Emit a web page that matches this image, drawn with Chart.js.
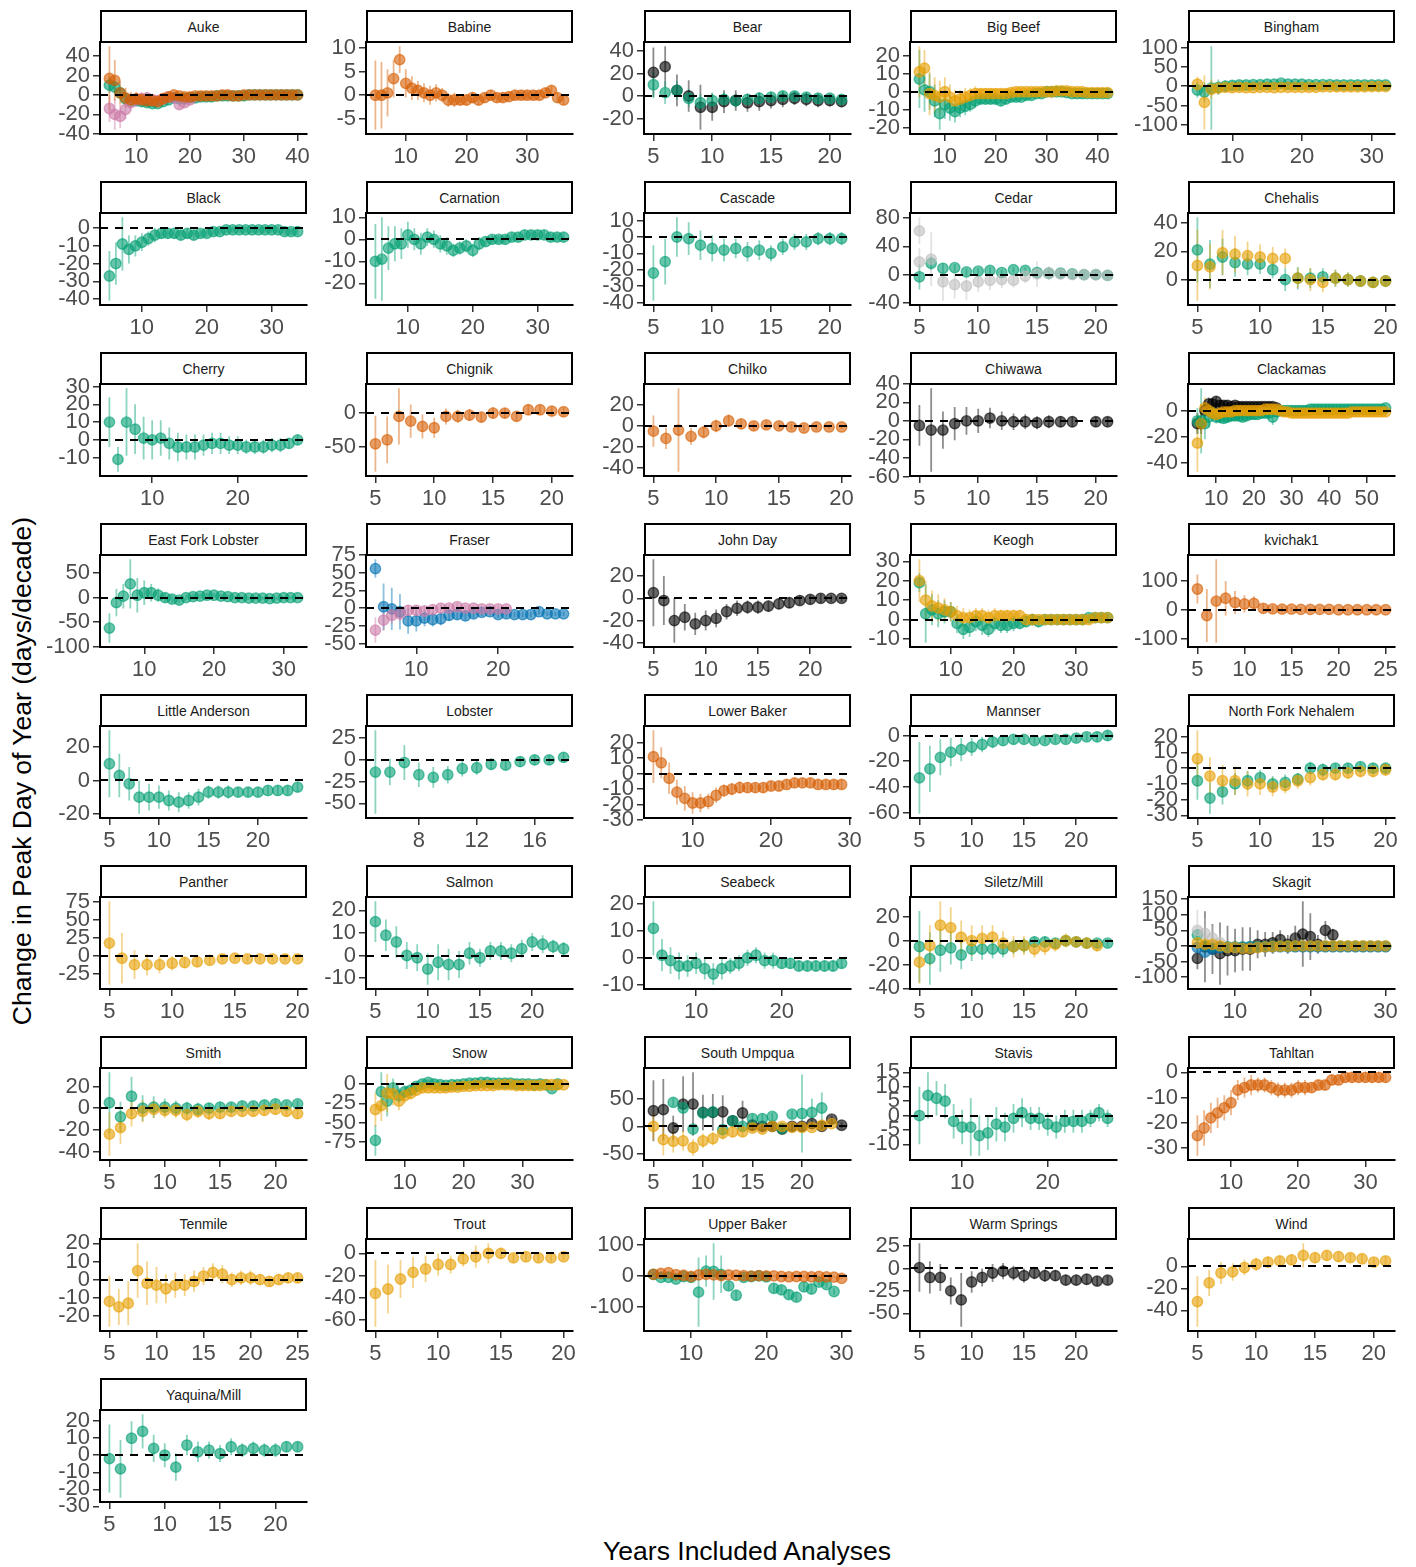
<!DOCTYPE html>
<html>
<head>
<meta charset="utf-8">
<script src="https://cdn.jsdelivr.net/npm/chart.js@4.4.1/dist/chart.umd.min.js"></script>
<style>
  html, body { margin: 0; padding: 0; background: #fff; }
  body { width: 1416px; height: 1567px; position: relative; overflow: hidden;
         font-family: 'Liberation Sans', Arial, Helvetica, sans-serif; }
  .strip { position: absolute; box-sizing: border-box; border: 2px solid #000; background: #fff;
           font-size: 14px; color: #1a1a1a; display: flex; align-items: center; justify-content: center; }
  .cell { position: absolute; }
  .cell canvas { display: block; }
  .xtitle { position: absolute; left: 0; width: 1494px; top: 1536px; text-align: center; font-size: 26.5px; color: #000; }
  .ytitle { position: absolute; width: 700px; height: 32px; line-height: 32px; text-align: center; font-size: 26.5px; color: #000;
            left: -328px; top: 755px; transform: rotate(-90deg); }
</style>
</head>
<body>
<div class="ytitle">Change in Peak Day of Year (days/decade)</div>
<div class="xtitle">Years Included Analyses</div>
<script>
// ---------- Years included (x) per site ----------
const AUKE_X = [5,6,7,8,9,10,11,12,13,14,15,16,17,18,19,20,21,22,23,24,25,26,27,28,29,30,31,32,33,34,35,36,37,38,39,40];
const BABINE_X = [5,6,7,8,9,10,11,12,13,14,15,16,17,18,19,20,21,22,23,24,25,26,27,28,29,30,31,32,33,34,35,36];
const BEAR_X = [5,6,7,8,9,10,11,12,13,14,15,16,17,18,19,20,21];
const BIGBEEF_X = [5,6,7,8,9,10,11,12,13,14,15,16,17,18,19,20,21,22,23,24,25,26,27,28,29,30,31,32,33,34,35,36,37,38,39,40,41,42];
const BINGHAM_X = [5,6,7,8,9,10,11,12,13,14,15,16,17,18,19,20,21,22,23,24,25,26,27,28,29,30,31,32];
const BLACK_X = [5,6,7,8,9,10,11,12,13,14,15,16,17,18,19,20,21,22,23,24,25,26,27,28,29,30,31,32,33,34];
const CARNATION_X = [5,6,7,8,9,10,11,12,13,14,15,16,17,18,19,20,21,22,23,24,25,26,27,28,29,30,31,32,33,34];
const CASCADE_X = [5,6,7,8,9,10,11,12,13,14,15,16,17,18,19,20,21];
const CEDAR_X = [5,6,7,8,9,10,11,12,13,14,15,16,17,18,19,20,21];
const CHEHALIS_X = [5,6,7,8,9,10,11,12,13,14,15,16,17,18,19,20];
const CHERRY_X = [5,6,7,8,9,10,11,12,13,14,15,16,17,18,19,20,21,22,23,24,25,26,27];
const CHIGNIK_X = [5,6,7,8,9,10,11,12,13,14,15,16,17,18,19,20,21];
const CHILKO_X = [5,6,7,8,9,10,11,12,13,14,15,16,17,18,19,20];
const CHIWAWA_X = [5,6,7,8,9,10,11,12,13,14,15,16,17,18,20,21];
const CLACKAMAS_X = [5,6,7,8,9,10,11,12,13,14,15,16,17,18,19,20,21,22,23,24,25,26,27,28,29,30,31,32,33,34,35,36,37,38,39,40,41,42,43,44,45,46,47,48,49,50,51,52,53,54,55];
const EFL_X = [5,6,7,8,9,10,11,12,13,14,15,16,17,18,19,20,21,22,23,24,25,26,27,28,29,30,31,32];
const FRASER_X = [5,6,7,8,9,10,11,12,13,14,15,16,17,18,19,20,21,22,23,24,25,26,27,28];
const JOHNDAY_X = [5,6,7,8,9,10,11,12,13,14,15,16,17,18,19,20,21,22,23];
const KEOGH_X = [5,6,7,8,9,10,11,12,13,14,15,16,17,18,19,20,21,22,23,24,25,26,27,28,29,30,31,32,33,34,35];
const KVICHAK_X = [5,6,7,8,9,10,11,12,13,14,15,16,17,18,19,20,21,22,23,24,25];
const LITTLEAND_X = [5,6,7,8,9,10,11,12,13,14,15,16,17,18,19,20,21,22,23,24];
const LOBSTER_X = [5,6,7,8,9,10,11,12,13,14,15,16,17,18];
const LOWERBAKER_X = [5,6,7,8,9,10,11,12,13,14,15,16,17,18,19,20,21,22,23,24,25,26,27,28,29];
const MANNSER_X = [5,6,7,8,9,10,11,12,13,14,15,16,17,18,19,20,21,22,23];
const NFN_X = [5,6,7,8,9,10,11,12,13,14,15,16,17,18,19,20];
const PANTHER_X = [5,6,7,8,9,10,11,12,13,14,15,16,17,18,19,20];
const SALMON_X = [5,6,7,8,9,10,11,12,13,14,15,16,17,18,19,20,21,22,23];
const SEABECK_X = [5,6,7,8,9,10,11,12,13,14,15,16,17,18,19,20,21,22,23,24,25,26,27];
const SILETZ_X = [5,6,7,8,9,10,11,12,13,14,15,16,17,18,19,20,21,22,23];
const SKAGIT_X = [5,6,7,8,9,10,11,12,13,14,15,16,17,18,19,20,21,22,23,24,25,26,27,28,29,30];
const SMITH_X = [5,6,7,8,9,10,11,12,13,14,15,16,17,18,19,20,21,22];
const SNOW_X = [5,6,7,8,9,10,11,12,13,14,15,16,17,18,19,20,21,22,23,24,25,26,27,28,29,30,31,32,33,34,35,36,37];
const UMPQUA_X = [5,6,7,8,9,10,11,12,13,14,15,16,17,18,19,20,21,22,23,24];
const UMPQUA_TEAL_X = [7,8,9,10,11,12,13,14,15,16,17,18,19,20,21,22];
const STAVIS_X = [5,6,7,8,9,10,11,12,13,14,15,16,17,18,19,20,21,22,23,24,25,26,27];
const TAHLTAN_X = [5,6,7,8,9,10,11,12,13,14,15,16,17,18,19,20,21,22,23,24,25,26,27,28,29,30,31,32,33];
const TENMILE_X = [5,6,7,8,9,10,11,12,13,14,15,16,17,18,19,20,21,22,23,24,25];
const TROUT_X = [5,6,7,8,9,10,11,12,13,14,15,16,17,18,19,20];
const UPPERBAKER_X = [5,6,7,8,9,10,11,12,13,14,15,16,17,18,19,20,21,22,23,24,25,26,27,28,29,30];
const WARMSPR_X = [5,6,7,8,9,10,11,12,13,14,15,16,17,18,19,20,21,22,23];
const WIND_X = [5,6,7,8,9,10,11,12,13,14,15,16,17,18,19,20,21];
const YAQUINA_X = [5,6,7,8,9,10,11,12,13,14,15,16,17,18,19,20,21,22];

// ---------- Change in peak day (days/decade) and its half-interval ----------
const AUKE_TEAL = [10,8,2,-4,-6,-6,-7,-8,-9,-9,-7,-5,-3,-4,-4,-3,-3,-2,-2,-2,-1,-1,-1,-1,-1,-1,0,0,0,0,0,0,0,0,0,0];
const AUKE_TEAL_SE = [8,7,6,5,5,4,4,4,4,3,3,3,3,3,3,2,2,2,2,2,2,2,2,2,2,2,1.5,1.5,1.5,1.5,1.5,1.5,1.5,1.5,1.5,1.5];
const AUKE_PINK = [-14,-20,-22,-15,-8,-5,-4,-3,-5,-6,-4,-2,-3,-10,-8,-5];
const AUKE_PINK_SE = [14,16,12,10,8,7,7,6,6,5,5,4,4,4,4,3];
const AUKE_ORANGE = [17,15,2,-3,-5,-4,-5,-6,-6,-7,-4,-2,0,-1,-2,-2,-1,-1,-1,-1,-1,0,0,-1,-1,0,0,0,0,0,0,0,0,0,0,0];
const AUKE_ORANGE_SE = [33,21,12,10,8,7,6,6,5,5,4,4,3,3,3,3,2,2,2,2,2,2,2,2,2,1.5,1.5,1.5,1.5,1.5,1.5,1.5,1.5,1.5,1.5,1.5];

const BABINE_ORANGE = [0,0,0.5,3.5,7.5,2.5,1.5,1,0.5,0,0.5,0,-1,-1,-1,-1,-0.5,-1,-0.5,0,-0.5,-0.5,-0.3,0,0,0,0,0,0.5,1,-0.5,-1];
const BABINE_ORANGE_SE = [7.3,7,5,4,2.8,3,2.5,2,2,2,1.8,1.5,1.5,1.5,1.2,1.2,1.2,1.2,1,1,1,1,1,1,1,1,1,1,1,1,1,1];

const BEAR_BLACK = [21,26,5,0,-10,-10,-5,-4,-6,-5,-4,-3,-2,-3,-4,-4,-5];
const BEAR_BLACK_SE = [22,18,14,14,20,12,10,9,8,8,7,7,6,6,6,5,5];
const BEAR_TEAL = [10,3,5,-2,-6,-4,-3,-4,-3,-2,-1,0,0,-1,-2,-2,-3];
const BEAR_TEAL_SE = [12,10,8,8,8,7,6,6,5,5,5,4,4,4,4,4,4];

const BIGBEEF_TEAL = [7,1,0,-5,-12,-7,-9,-11,-9,-8,-7,-5,-4,-4,-4,-4,-5,-4,-3,-3,-3,-2,-2,-1,-1,0,0,0,0,-0.5,-1,-1,-1,-1,-1,-1,-1,-1];
const BIGBEEF_TEAL_SE = [16,12,10,9,9,8,7,6,5,5,4,4,3,3,3,3,3,2.5,2,2,2,2,2,2,2,2,2,2,2,2,2,2,2,2,2,2,2,2];
const BIGBEEF_GOLD = [11,13,-1,-2,-3,0,-3,-5,-4,-3,-2,-1,-1,-1,-1,-1,-1,-1,-0.5,0,0,0,0,0,0,0,0,0.5,0.5,0.5,0,0,0,-0.5,-0.5,-0.5,-0.5,-0.5];
const BIGBEEF_GOLD_SE = [14,10,12,10,9,8,7,6,5,5,4,4,3,3,3,3,2.5,2.5,2,2,2,2,2,2,2,2,2,2,2,2,2,2,2,2,2,2,2,2];

const BINGHAM_TEAL = [-10,-15,-5,-3,0,2,3,3,4,4,5,5,8,5,5,5,4,4,4,4,3,3,3,3,3,3,3,3];
const BINGHAM_TEAL_SE = [20,25,108,20,15,12,10,9,8,7,7,6,6,6,5,5,5,5,4,4,4,4,4,4,4,4,4,4];
const BINGHAM_GOLD = [5,-42,-8,-5,-3,-4,-3,-4,-4,-3,-3,-4,-3,-3,-3,-3,-3,-3,-2,-2,-2,-2,-2,-2,-2,-1,-1,-1];
const BINGHAM_GOLD_SE = [20,70,25,15,12,10,9,8,7,6,6,5,5,5,5,4,4,4,4,4,3,3,3,3,3,3,3,3];

const BLACK_TEAL = [-27,-20,-9,-12,-10,-8,-6,-4,-3,-3,-3,-4,-3,-4,-3,-3,-2,-2,-1,-1,-1,-1,-1,-1,-1,-1,-1,-2,-2,-2];
const BLACK_TEAL_SE = [14,12,15,8,6,5,4,4,3,3,3,3,3,3,2,2,2,2,2,2,2,2,2,2,2,2,2,2,2,2];

const CARNATION_TEAL = [-10,-9,-4,-2,-2,2,0,-2,1,0,-2,-3,-5,-4,-3,-5,-2,-1,0,0,0,1,1,2,2,2,2,1,1,1];
const CARNATION_TEAL_SE = [17,19,10,8,7,6,5,5,4,4,4,4,3,3,3,3,3,2,2,2,2,2,2,2,2,2,2,2,2,2];

const CASCADE_TEAL = [-22,-15,0,-1,-5,-7,-8,-7,-9,-8,-10,-6,-3,-3,-1,-1,-1];
const CASCADE_TEAL_SE = [17,14,12,10,9,8,7,6,6,6,5,5,5,5,4,4,4];

const CEDAR_TEAL = [-3,16,9,10,4,5,6,3,7,6,3,2,2,1,0,0,-1];
const CEDAR_TEAL_SE = [18,10,6,5,5,4,4,4,4,4,4,3,3,3,3,3,3];
const CEDAR_GREY = [18,22,-10,-14,-16,-10,-8,-7,-8,-2,1,2,1,0,0,0,-1];
const CEDAR_GREY_SE = [20,38,27,20,20,15,14,12,10,10,18,10,8,6,5,5,4];
const CEDAR_GREY2 = [62];
const CEDAR_GREY2_SE = [19];

const CHEHALIS_TEAL = [21,11,16,12,11,11,7,0,1,1,2,1,0,-1,-2,-1];
const CHEHALIS_TEAL_SE = [23,17,13,10,8,7,6,8,8,7,6,6,5,4,4,4];
const CHEHALIS_GOLD = [10,9,19,18,17,16,15,15,1,0,-2,1,0,-1,-2,-1];
const CHEHALIS_GOLD_SE = [25,16,16,13,10,9,8,7,7,8,7,6,5,4,4,4];

const CHERRY_TEAL = [10,-11,10,6,1,0,1,-2,-4,-4,-4,-3,-2,-2,-3,-3,-4,-4,-4,-3,-3,-2,0];
const CHERRY_TEAL_SE = [14,7,19,14,12,11,10,9,8,7,7,6,6,6,5,5,4,4,4,4,4,3,3];

const CHIGNIK_ORANGE = [-46,-40,-5,-12,-20,-22,-5,-5,-3,-6,0,0,-5,5,5,3,2];
const CHIGNIK_ORANGE_SE = [42,35,42,25,18,15,12,10,9,8,9,8,7,8,7,7,6];

const CHILKO_ORANGE = [-5,-12,-4,-10,-6,0,5,2,0,1,0,-1,-2,-1,-1,-1];
const CHILKO_ORANGE_SE = [15,10,40,8,6,6,6,5,4,4,3,3,3,3,2,2];

const CHIWAWA_BLACK = [-5,-10,-10,-3,0,0,3,0,-1,-1,-2,-1,-1,-1,-1,-1];
const CHIWAWA_BLACK_SE = [22,45,20,18,15,13,11,10,9,8,7,7,6,6,5,5];

const CLACKAMAS_BLACK = [-10,-10,0,5,5,7,4,4,4,3,4,3,3,3,3,3,3,3,3,3,3,2];
const CLACKAMAS_BLACK_SE = [8,8,6,5,4,4,4,3,3,3,3,3,3,2,2,2,2,2,2,2,2,2];
const CLACKAMAS_TEAL = [-8,-8,-10,-5,-2,-5,-5,-6,-5,-4,-4,-4,-5,-4,-3,-3,-3,-2,-2,-2,-5,-1,0,0,0,0,
  0,0,0,0,1,1,1,1,1,1,1,1,1,1,1,1,1,1,1,1,1,1,1,1,2];
const CLACKAMAS_TEAL_SE = [10,25,12,8,6,5,5,4,4,4,3,3,3,3,3,3,3,3,3,3,6,
  2,2,2,2,2,2,2,2,2,2,2,2,2,2,2,2,2,2,2,2,2,2,2,2,2,2,2,2,2,2];
const CLACKAMAS_GOLD = [-25,-10,2,0,-2,-3,-2,-1,-1,-1,0,0,0,0,0,0,0,0,1,1,1,1,0,-1,-1,-2,
  -2,-2,-2,-2,-2,-2,-2,-2,-2,-2,-2,-2,-2,-2,-2,-1,-1,-1,-1,-1,-1,-1,-1,-1,-1];
const CLACKAMAS_GOLD_SE = [22,15,8,6,5,4,4,3,3,3,3,3,3,3,3,
  2,2,2,2,2,2,2,2,2,2,2,2,2,2,2,2,2,2,2,2,2,2,2,2,2,2,2,2,2,2,2,2,2,2,2,2];

const EFL_TEAL = [-62,-10,3,28,5,10,10,5,0,-3,-5,0,2,3,5,5,3,2,0,0,-1,-1,-1,-2,-1,0,0,0];
const EFL_TEAL_SE = [30,28,25,50,35,25,18,14,10,8,7,6,6,5,5,5,4,4,4,4,3,3,3,3,3,3,3,3];

const FRASER_BLUE = [56,2,-1,-5,-18,-18,-14,-16,-15,-10,-9,-11,-8,-6,-5,-9,-8,-9,-9,-9,-5,-8,-8,-8];
const FRASER_BLUE_SE = [13,33,30,25,18,15,12,10,9,8,7,6,6,5,5,5,5,4,4,4,4,3,3,3];
const FRASER_PINK = [-31,-17,-10,-8,-3,-3,-4,-2,0,0,2,0,0,-1,-1,-1,-1];
const FRASER_PINK_SE = [18,15,12,10,8,7,6,6,5,5,5,4,4,4,4,4,4];

const JOHNDAY_BLACK = [5,-2,-20,-17,-23,-20,-18,-12,-9,-8,-8,-7,-5,-4,-2,-1,0,0,0];
const JOHNDAY_BLACK_SE = [30,22,20,12,10,9,8,7,7,6,6,5,5,5,4,4,4,3,3];

const KEOGH_TEAL = [19,3,5,3,4,4,-2,-5,-4,-1,-3,-5,-2,-3,-3,-2,-2,-1,0,-1,0,0,0,0,0,0,0,1,1,1,1];
const KEOGH_TEAL_SE = [5,15,8,7,6,5,5,5,5,5,5,4,4,4,4,4,3,3,3,3,2,2,2,2,2,2,2,2,2,2,2];
const KEOGH_GOLD = [20,10,7,6,5,4,2,1,1,2,2,1,2,2,2,2,2,0,0,0,0,0,0,0,0,0,0,0,1,1,1];
const KEOGH_GOLD_SE = [11,10,8,7,6,5,5,5,4,4,4,4,4,3,3,3,3,3,3,2,2,2,2,2,2,2,2,2,2,2,2];

const KVICHAK_ORANGE = [72,-20,30,40,25,20,22,5,3,2,2,1,1,1,1,0,0,0,0,0,0];
const KVICHAK_ORANGE_SE = [50,92,145,60,40,30,25,15,12,10,8,8,7,6,6,5,5,5,4,4,4];

const LITTLEAND_TEAL = [10,3,-2,-10,-10,-10,-12,-13,-12,-10,-7,-7,-7,-7,-7,-7,-6,-6,-6,-4];
const LITTLEAND_TEAL_SE = [20,13,10,10,8,7,6,6,5,5,4,4,4,3,3,3,3,3,3,3];

const LOBSTER_TEAL = [-14,-14,-3,-17,-20,-17,-10,-9,-5,-6,-2,0,0,3];
const LOBSTER_TEAL_SE = [48,15,20,14,12,10,9,8,7,6,6,6,5,5];

const LOWERBAKER_ORANGE = [11,7,-3,-12,-16,-19,-19,-18,-14,-11,-10,-9,-9,-9,-9,-8,-8,-7,-6,-6,-6,-7,-7,-7,-7];
const LOWERBAKER_ORANGE_SE = [17,10,10,8,8,7,6,5,5,4,4,4,3,3,3,3,3,3,3,3,3,3,3,3,3];

const MANNSER_TEAL = [-33,-26,-17,-13,-11,-9,-7,-5,-4,-3,-3,-4,-4,-3,-3,-2,-1,-1,0];
const MANNSER_TEAL_SE = [28,18,14,11,9,7,6,5,4,4,3,3,3,3,3,3,3,4,4];

const NFN_TEAL = [-8,-19,-15,-10,-8,-6,-10,-9,-7,0,-1,0,0,1,0,0];
const NFN_TEAL_SE = [12,10,8,7,6,5,5,5,4,4,4,3,3,3,3,3];
const NFN_GOLD = [6,-5,-8,-8,-10,-10,-12,-11,-8,-6,-4,-4,-3,-2,-2,-1];
const NFN_GOLD_SE = [18,12,10,9,8,7,6,5,5,5,4,4,4,4,4,4];

const PANTHER_GOLD = [18,-3,-12,-12,-12,-10,-9,-8,-6,-4,-3,-4,-4,-4,-4,-4];
const PANTHER_GOLD_SE = [58,35,20,15,12,10,8,7,6,5,5,4,4,4,4,3];

const SALMON_TEAL = [15,9,6,0,-1,-6,-3,-4,-4,1,-1,2,2,1,3,6,5,4,3];
const SALMON_TEAL_SE = [9,7,7,6,6,7,8,7,6,5,4,4,4,4,4,4,4,3,3];

const SEABECK_TEAL = [11,1,-1,-3,-3,-2,-4,-6,-4,-3,-2,0,1,-1,-1,-2,-2,-3,-3,-3,-3,-3,-2];
const SEABECK_TEAL_SE = [10,6,5,5,4,4,4,4,4,3,3,3,3,3,3,2,2,2,2,2,2,2,2];

const SILETZ_TEAL = [-5,-15,-8,-6,-12,-7,-7,-7,-7,-5,-4,-1,-1,-2,0,-1,-2,-2,-2];
const SILETZ_TEAL_SE = [30,22,18,14,12,10,9,8,7,6,6,5,5,4,4,4,4,3,3];
const SILETZ_GOLD = [-18,-4,13,11,3,0,2,3,-2,-5,-4,-7,-5,-3,0,-1,-2,-4];
const SILETZ_GOLD_SE = [18,17,20,17,14,13,11,10,10,9,8,7,7,6,6,5,5,5];

const SKAGIT_BLACK = [-40,-3,-10,-25,-15,-15,-10,-10,5,5,10,20,5,25,38,30,5,50,35];
const SKAGIT_BLACK_SE = [35,114,80,100,80,70,70,70,45,40,35,30,30,40,105,75,30,30,20];
const SKAGIT_GREY = [50,40,25,10];
const SKAGIT_GREY_SE = [65,50,40,30];
const SKAGIT_TEAL = [35,0,-2,-3,-3,-3,-3,-2,-2,-2,-1,-1,-1,-1,-1,-1,-1,-1,-1,-1,-1,-1,-1,-1,-1,-1];
const SKAGIT_TEAL_SE = [20,15,10,8,7,6,5,5,4,4,4,3,3,3,3,3,3,3,3,3,3,3,3,3,3,3];
const SKAGIT_BLUE = [-5,-20,-10,-5,-5,-5,-5,-4,-4,-3,-3,-3,-3,-3,-3,-3,-3,-3,-3,-3,-3,-3,-3,-3,-3,-3];
const SKAGIT_BLUE_SE = [15,12,10,8,6,5,5,4,4,4,3,3,3,3,3,3,3,3,3,3,3,3,3,3,3,3];
const SKAGIT_GOLD = [10,5,5,0,-5,-5,-8,-8,-5,-3,-2,-1,-1,0,0,0,0,0,0,0,0,0,0,0,0,0];
const SKAGIT_GOLD_SE = [15,12,10,8,8,7,6,6,5,5,4,4,4,3,3,3,3,3,3,3,3,3,3,3,3,3];

const SMITH_TEAL = [5,-8,11,0,1,1,0,0,-1,0,1,1,2,2,3,4,3,4];
const SMITH_TEAL_SE = [28,14,18,12,10,8,7,6,6,5,5,4,4,4,4,4,3,3];
const SMITH_GOLD = [-24,-18,-5,-3,-1,-2,-2,-6,-3,-5,-5,-3,-3,-3,-2,-1,-3,-5];
const SMITH_GOLD_SE = [20,15,12,10,8,7,7,6,6,6,5,5,5,5,5,5,5,5];

const SNOW_TEAL = [-73,-10,-22,-5,-15,-10,-8,-3,0,2,0,-1,-2,-1,-1,0,1,1,2,2,1,1,1,1,0,0,0,-1,0,-1,-6,0];
const SNOW_TEAL_SE = [20,25,20,12,10,8,7,6,5,4,4,3,3,3,3,3,3,3,3,3,3,2,2,2,2,2,2,2,2,2,3,2];
const SNOW_GOLD = [-33,-28,-12,-13,-22,-15,-12,-8,-5,-5,-5,-5,-5,-4,-4,-3,-3,-2,-2,-2,-2,-1,-1,-1,-2,-2,-2,-2,-2,-1,-1,-1,-1];
const SNOW_GOLD_SE = [22,20,25,15,12,10,8,7,6,5,4,4,4,4,3,3,3,3,3,3,3,2,2,2,2,2,2,2,2,2,2,2,2];

const UMPQUA_BLACK = [28,30,-3,40,40,25,25,26,10,24,2,0,0,-5,0,0,5,0,13,2];
const UMPQUA_BLACK_SE = [55,55,22,50,57,32,33,30,10,22,10,8,8,7,7,6,6,6,6,6];
const UMPQUA_TEAL = [43,33,-5,24,26,-6,10,0,14,14,18,-4,22,23,25,33];
const UMPQUA_TEAL_SE = [8,8,6,10,10,8,10,6,8,8,7,6,7,70,25,28];
const UMPQUA_GOLD = [0,-24,-27,-26,-38,-26,-22,-12,-10,-10,-3,-5,0,0,-2,-2,-2,2,5];
const UMPQUA_GOLD_SE = [25,28,20,18,15,13,12,12,10,9,8,7,6,6,5,5,5,5,5];

const STAVIS_TEAL = [0,7,6,5,-2,-4,-4,-7,-6,-3,-4,-1,1,-1,-1,-3,-4,-2,-2,-2,-1,1,-1];
const STAVIS_TEAL_SE = [10,8,6,6,6,6,10,7,6,6,5,5,5,4,4,4,4,4,4,4,3,3,3];

const TAHLTAN_ORANGE = [-25,-22,-18,-16,-14,-12,-7,-6,-5,-5,-5,-6,-7,-7,-7,-6,-6,-6,-5,-5,-3,-3,-2,-2,-2,-2,-2,-2,-2];
const TAHLTAN_ORANGE_SE = [8,7,6,6,5,5,4,4,4,3,3,3,3,3,3,3,3,2,2,2,2,2,2,2,2,2,2,2,2];

const TENMILE_GOLD = [-12,-15,-13,5,-2,-3,-5,-3,-3,-1,2,4,3,0,1,1,0,-1,0,1,1];
const TENMILE_GOLD_SE = [14,10,12,15,12,10,8,7,6,6,5,5,5,4,4,4,3,3,3,3,3];

const TROUT_GOLD = [-36,-32,-23,-17,-14,-10,-10,-5,-3,0,0,-4,-3,-4,-4,-3];
const TROUT_GOLD_SE = [30,22,17,14,12,10,8,7,10,9,5,4,4,4,3,3];

const UPPERBAKER_TEAL = [5,-5,-5,-10,-2,-5,-52,15,14,5,-32,-62,-5,-2,0,-3,-40,-45,-60,-68,-35,-42,-20,-28,-50];
const UPPERBAKER_TEAL_SE = [6,5,6,6,5,8,111,50,90,60,15,15,8,8,8,8,15,15,15,15,15,15,10,10,10];
const UPPERBAKER_ORANGE = [5,8,10,4,2,-2,3,5,3,1,3,2,1,-1,1,0,0,-2,-3,-2,-2,-3,-2,-3,-4,-8];
const UPPERBAKER_ORANGE_SE = [6,6,6,5,5,5,5,5,4,4,4,4,4,4,3,3,3,3,3,3,3,3,3,3,3,3];

const WARMSPR_BLACK = [1,-10,-10,-25,-35,-15,-10,-5,-3,-5,-8,-5,-8,-8,-13,-13,-12,-14,-13];
const WARMSPR_BLACK_SE = [27,18,15,15,30,12,10,10,9,8,8,7,7,6,6,6,6,5,5];

const WIND_GOLD = [-32,-15,-6,-5,-1,2,4,5,6,10,8,10,9,8,7,4,5];
const WIND_GOLD_SE = [23,12,10,8,7,6,5,5,5,11,5,5,5,4,4,4,4];

const YAQUINA_TEAL = [-2,-8,10,14,4,0,-7,6,2,3,1,5,3,4,3,3,5,5];
const YAQUINA_TEAL_SE = [20,17,10,10,8,7,8,6,6,5,5,5,4,4,4,4,3,3];

// ---------- Tick labels per site ----------
const AUKE_XT = [10,20,30,40], AUKE_YT = [-40,-20,0,20,40];
const BABINE_XT = [10,20,30], BABINE_YT = [-5,0,5,10];
const BEAR_XT = [5,10,15,20], BEAR_YT = [-20,0,20,40];
const BIGBEEF_XT = [10,20,30,40], BIGBEEF_YT = [-20,-10,0,10,20];
const BINGHAM_XT = [10,20,30], BINGHAM_YT = [-100,-50,0,50,100];
const BLACK_XT = [10,20,30], BLACK_YT = [-40,-30,-20,-10,0];
const CARNATION_XT = [10,20,30], CARNATION_YT = [-20,-10,0,10];
const CASCADE_XT = [5,10,15,20], CASCADE_YT = [-40,-30,-20,-10,0,10];
const CEDAR_XT = [5,10,15,20], CEDAR_YT = [-40,0,40,80];
const CHEHALIS_XT = [5,10,15,20], CHEHALIS_YT = [0,20,40];
const CHERRY_XT = [10,20], CHERRY_YT = [-10,0,10,20,30];
const CHIGNIK_XT = [5,10,15,20], CHIGNIK_YT = [-50,0];
const CHILKO_XT = [5,10,15,20], CHILKO_YT = [-40,-20,0,20];
const CHIWAWA_XT = [5,10,15,20], CHIWAWA_YT = [-60,-40,-20,0,20,40];
const CLACKAMAS_XT = [10,20,30,40,50], CLACKAMAS_YT = [-40,-20,0];
const EFL_XT = [10,20,30], EFL_YT = [-100,-50,0,50];
const FRASER_XT = [10,20], FRASER_YT = [-50,-25,0,25,50,75];
const JOHNDAY_XT = [5,10,15,20], JOHNDAY_YT = [-40,-20,0,20];
const KEOGH_XT = [10,20,30], KEOGH_YT = [-10,0,10,20,30];
const KVICHAK_XT = [5,10,15,20,25], KVICHAK_YT = [-100,0,100];
const LITTLEAND_XT = [5,10,15,20], LITTLEAND_YT = [-20,0,20];
const LOBSTER_XT = [8,12,16], LOBSTER_YT = [-50,-25,0,25];
const LOWERBAKER_XT = [10,20,30], LOWERBAKER_YT = [-30,-20,-10,0,10,20];
const MANNSER_XT = [5,10,15,20], MANNSER_YT = [-60,-40,-20,0];
const NFN_XT = [5,10,15,20], NFN_YT = [-30,-20,-10,0,10,20];
const PANTHER_XT = [5,10,15,20], PANTHER_YT = [-25,0,25,50,75];
const SALMON_XT = [5,10,15,20], SALMON_YT = [-10,0,10,20];
const SEABECK_XT = [10,20], SEABECK_YT = [-10,0,10,20];
const SILETZ_XT = [5,10,15,20], SILETZ_YT = [-40,-20,0,20];
const SKAGIT_XT = [10,20,30], SKAGIT_YT = [-100,-50,0,50,100,150];
const SMITH_XT = [5,10,15,20], SMITH_YT = [-40,-20,0,20];
const SNOW_XT = [10,20,30], SNOW_YT = [-75,-50,-25,0];
const UMPQUA_XT = [5,10,15,20], UMPQUA_YT = [-50,0,50];
const STAVIS_XT = [10,20], STAVIS_YT = [-10,-5,0,5,10,15];
const TAHLTAN_XT = [10,20,30], TAHLTAN_YT = [-30,-20,-10,0];
const TENMILE_XT = [5,10,15,20,25], TENMILE_YT = [-20,-10,0,10,20];
const TROUT_XT = [5,10,15,20], TROUT_YT = [-60,-40,-20,0];
const UPPERBAKER_XT = [10,20,30], UPPERBAKER_YT = [-100,0,100];
const WARMSPR_XT = [5,10,15,20], WARMSPR_YT = [-50,-25,0,25];
const WIND_XT = [5,10,15,20], WIND_YT = [-40,-20,0];
const YAQUINA_XT = [5,10,15,20], YAQUINA_YT = [-30,-20,-10,0,10,20];

// ---------- Facet table: site, x ticks, y ticks, series [colour, x, y, half-interval] ----------
const PANELS = [
  ['Auke', AUKE_XT, AUKE_YT, [['teal', AUKE_X, AUKE_TEAL, AUKE_TEAL_SE], ['pink', AUKE_X, AUKE_PINK, AUKE_PINK_SE], ['orange', AUKE_X, AUKE_ORANGE, AUKE_ORANGE_SE]]],
  ['Babine', BABINE_XT, BABINE_YT, [['orange', BABINE_X, BABINE_ORANGE, BABINE_ORANGE_SE]]],
  ['Bear', BEAR_XT, BEAR_YT, [['black', BEAR_X, BEAR_BLACK, BEAR_BLACK_SE], ['teal', BEAR_X, BEAR_TEAL, BEAR_TEAL_SE]]],
  ['Big Beef', BIGBEEF_XT, BIGBEEF_YT, [['teal', BIGBEEF_X, BIGBEEF_TEAL, BIGBEEF_TEAL_SE], ['gold', BIGBEEF_X, BIGBEEF_GOLD, BIGBEEF_GOLD_SE]]],
  ['Bingham', BINGHAM_XT, BINGHAM_YT, [['teal', BINGHAM_X, BINGHAM_TEAL, BINGHAM_TEAL_SE], ['gold', BINGHAM_X, BINGHAM_GOLD, BINGHAM_GOLD_SE]]],
  ['Black', BLACK_XT, BLACK_YT, [['teal', BLACK_X, BLACK_TEAL, BLACK_TEAL_SE]]],
  ['Carnation', CARNATION_XT, CARNATION_YT, [['teal', CARNATION_X, CARNATION_TEAL, CARNATION_TEAL_SE]]],
  ['Cascade', CASCADE_XT, CASCADE_YT, [['teal', CASCADE_X, CASCADE_TEAL, CASCADE_TEAL_SE]]],
  ['Cedar', CEDAR_XT, CEDAR_YT, [['teal', CEDAR_X, CEDAR_TEAL, CEDAR_TEAL_SE], ['grey', CEDAR_X, CEDAR_GREY, CEDAR_GREY_SE], ['grey', CEDAR_X, CEDAR_GREY2, CEDAR_GREY2_SE]]],
  ['Chehalis', CHEHALIS_XT, CHEHALIS_YT, [['teal', CHEHALIS_X, CHEHALIS_TEAL, CHEHALIS_TEAL_SE], ['gold', CHEHALIS_X, CHEHALIS_GOLD, CHEHALIS_GOLD_SE]]],
  ['Cherry', CHERRY_XT, CHERRY_YT, [['teal', CHERRY_X, CHERRY_TEAL, CHERRY_TEAL_SE]]],
  ['Chignik', CHIGNIK_XT, CHIGNIK_YT, [['orange', CHIGNIK_X, CHIGNIK_ORANGE, CHIGNIK_ORANGE_SE]]],
  ['Chilko', CHILKO_XT, CHILKO_YT, [['orange', CHILKO_X, CHILKO_ORANGE, CHILKO_ORANGE_SE]]],
  ['Chiwawa', CHIWAWA_XT, CHIWAWA_YT, [['black', CHIWAWA_X, CHIWAWA_BLACK, CHIWAWA_BLACK_SE]]],
  ['Clackamas', CLACKAMAS_XT, CLACKAMAS_YT, [['black', CLACKAMAS_X, CLACKAMAS_BLACK, CLACKAMAS_BLACK_SE], ['teal', CLACKAMAS_X, CLACKAMAS_TEAL, CLACKAMAS_TEAL_SE], ['gold', CLACKAMAS_X, CLACKAMAS_GOLD, CLACKAMAS_GOLD_SE]]],
  ['East Fork Lobster', EFL_XT, EFL_YT, [['teal', EFL_X, EFL_TEAL, EFL_TEAL_SE]]],
  ['Fraser', FRASER_XT, FRASER_YT, [['blue', FRASER_X, FRASER_BLUE, FRASER_BLUE_SE], ['pink', FRASER_X, FRASER_PINK, FRASER_PINK_SE]]],
  ['John Day', JOHNDAY_XT, JOHNDAY_YT, [['black', JOHNDAY_X, JOHNDAY_BLACK, JOHNDAY_BLACK_SE]]],
  ['Keogh', KEOGH_XT, KEOGH_YT, [['teal', KEOGH_X, KEOGH_TEAL, KEOGH_TEAL_SE], ['gold', KEOGH_X, KEOGH_GOLD, KEOGH_GOLD_SE]]],
  ['kvichak1', KVICHAK_XT, KVICHAK_YT, [['orange', KVICHAK_X, KVICHAK_ORANGE, KVICHAK_ORANGE_SE]]],
  ['Little Anderson', LITTLEAND_XT, LITTLEAND_YT, [['teal', LITTLEAND_X, LITTLEAND_TEAL, LITTLEAND_TEAL_SE]]],
  ['Lobster', LOBSTER_XT, LOBSTER_YT, [['teal', LOBSTER_X, LOBSTER_TEAL, LOBSTER_TEAL_SE]]],
  ['Lower Baker', LOWERBAKER_XT, LOWERBAKER_YT, [['orange', LOWERBAKER_X, LOWERBAKER_ORANGE, LOWERBAKER_ORANGE_SE]]],
  ['Mannser', MANNSER_XT, MANNSER_YT, [['teal', MANNSER_X, MANNSER_TEAL, MANNSER_TEAL_SE]]],
  ['North Fork Nehalem', NFN_XT, NFN_YT, [['teal', NFN_X, NFN_TEAL, NFN_TEAL_SE], ['gold', NFN_X, NFN_GOLD, NFN_GOLD_SE]]],
  ['Panther', PANTHER_XT, PANTHER_YT, [['gold', PANTHER_X, PANTHER_GOLD, PANTHER_GOLD_SE]]],
  ['Salmon', SALMON_XT, SALMON_YT, [['teal', SALMON_X, SALMON_TEAL, SALMON_TEAL_SE]]],
  ['Seabeck', SEABECK_XT, SEABECK_YT, [['teal', SEABECK_X, SEABECK_TEAL, SEABECK_TEAL_SE]]],
  ['Siletz/Mill', SILETZ_XT, SILETZ_YT, [['teal', SILETZ_X, SILETZ_TEAL, SILETZ_TEAL_SE], ['gold', SILETZ_X, SILETZ_GOLD, SILETZ_GOLD_SE]]],
  ['Skagit', SKAGIT_XT, SKAGIT_YT, [['black', SKAGIT_X, SKAGIT_BLACK, SKAGIT_BLACK_SE], ['teal', SKAGIT_X, SKAGIT_TEAL, SKAGIT_TEAL_SE], ['grey', SKAGIT_X, SKAGIT_GREY, SKAGIT_GREY_SE], ['blue', SKAGIT_X, SKAGIT_BLUE, SKAGIT_BLUE_SE], ['gold', SKAGIT_X, SKAGIT_GOLD, SKAGIT_GOLD_SE]]],
  ['Smith', SMITH_XT, SMITH_YT, [['teal', SMITH_X, SMITH_TEAL, SMITH_TEAL_SE], ['gold', SMITH_X, SMITH_GOLD, SMITH_GOLD_SE]]],
  ['Snow', SNOW_XT, SNOW_YT, [['teal', SNOW_X, SNOW_TEAL, SNOW_TEAL_SE], ['gold', SNOW_X, SNOW_GOLD, SNOW_GOLD_SE]]],
  ['South Umpqua', UMPQUA_XT, UMPQUA_YT, [['black', UMPQUA_X, UMPQUA_BLACK, UMPQUA_BLACK_SE], ['teal', UMPQUA_TEAL_X, UMPQUA_TEAL, UMPQUA_TEAL_SE], ['gold', UMPQUA_X, UMPQUA_GOLD, UMPQUA_GOLD_SE]]],
  ['Stavis', STAVIS_XT, STAVIS_YT, [['teal', STAVIS_X, STAVIS_TEAL, STAVIS_TEAL_SE]]],
  ['Tahltan', TAHLTAN_XT, TAHLTAN_YT, [['orange', TAHLTAN_X, TAHLTAN_ORANGE, TAHLTAN_ORANGE_SE]]],
  ['Tenmile', TENMILE_XT, TENMILE_YT, [['gold', TENMILE_X, TENMILE_GOLD, TENMILE_GOLD_SE]]],
  ['Trout', TROUT_XT, TROUT_YT, [['gold', TROUT_X, TROUT_GOLD, TROUT_GOLD_SE]]],
  ['Upper Baker', UPPERBAKER_XT, UPPERBAKER_YT, [['teal', UPPERBAKER_X, UPPERBAKER_TEAL, UPPERBAKER_TEAL_SE], ['orange', UPPERBAKER_X, UPPERBAKER_ORANGE, UPPERBAKER_ORANGE_SE]]],
  ['Warm Springs', WARMSPR_XT, WARMSPR_YT, [['black', WARMSPR_X, WARMSPR_BLACK, WARMSPR_BLACK_SE]]],
  ['Wind', WIND_XT, WIND_YT, [['gold', WIND_X, WIND_GOLD, WIND_GOLD_SE]]],
  ['Yaquina/Mill', YAQUINA_XT, YAQUINA_YT, [['teal', YAQUINA_X, YAQUINA_TEAL, YAQUINA_TEAL_SE]]]
];

// ---------- Appearance ----------
const RGB = { black: '0,0,0', teal: '0,158,115', orange: '213,94,0', gold: '230,159,0',
              grey: '190,190,190', blue: '0,114,178', pink: '204,121,167' };
const POINT_ALPHA = 0.6, BAR_ALPHA = 0.45;
const FONT = "'Liberation Sans', Arial, Helvetica, sans-serif";

// facet grid geometry
const COL_LEFT = [100, 366, 644, 910, 1188];
const PANEL_W = 207;
const ROW0 = 10, ROW_STEP = 171, STRIP_H = 32, PLOT_H = 92;
const AXIS_L = 66, AXIS_B = 36, PAD_T = 16, PAD_R = 18;

Chart.defaults.font.family = FONT;

// half-interval lines under the points
const errorBars = {
  id: 'errorBars',
  beforeDatasetsDraw(chart) {
    const { ctx, chartArea: a, scales: { x, y } } = chart;
    ctx.save();
    ctx.beginPath(); ctx.rect(a.left, a.top, a.right - a.left, a.bottom - a.top); ctx.clip();
    ctx.lineWidth = 1.8;
    chart.data.datasets.forEach(ds => {
      ctx.strokeStyle = ds.barColor;
      ds.data.forEach(p => {
        const px = x.getPixelForValue(p.x);
        ctx.beginPath();
        ctx.moveTo(px, y.getPixelForValue(p.y - p.se));
        ctx.lineTo(px, y.getPixelForValue(p.y + p.se));
        ctx.stroke();
      });
    });
    ctx.restore();
  }
};

// dashed reference line at zero change
const zeroLine = {
  id: 'zeroLine',
  afterDatasetsDraw(chart) {
    const { ctx, chartArea: a, scales: { y } } = chart;
    const py = Math.round(y.getPixelForValue(0));
    ctx.save();
    ctx.strokeStyle = '#000'; ctx.lineWidth = 2; ctx.setLineDash([8, 7]);
    ctx.beginPath(); ctx.moveTo(a.left, py); ctx.lineTo(a.right, py); ctx.stroke();
    ctx.restore();
  }
};

function expanded(values) {
  const lo = Math.min(...values), hi = Math.max(...values);
  const pad = (hi - lo) * 0.05;
  return [lo - pad, hi + pad];
}

function axisStyle(tickPadding) {
  return {
    ticks: { font: { size: 22 }, color: '#4d4d4d', padding: tickPadding, autoSkip: false, maxRotation: 0,
             callback: v => String(v) },
    grid: { display: true, drawOnChartArea: false, drawTicks: true, tickLength: 7, color: '#333', lineWidth: 1.5 },
    border: { display: true, color: '#000', width: 2 }
  };
}

PANELS.forEach(([site, xTicks, yTicks, series], idx) => {
  const col = idx % 5, row = Math.floor(idx / 5);
  const left = COL_LEFT[col];
  const stripTop = ROW0 + row * ROW_STEP;
  const plotTop = stripTop + STRIP_H;

  const strip = document.createElement('div');
  strip.className = 'strip';
  strip.style.left = left + 'px'; strip.style.top = stripTop + 'px';
  strip.style.width = PANEL_W + 'px'; strip.style.height = (STRIP_H + 1) + 'px';
  strip.textContent = site;
  document.body.appendChild(strip);

  const cell = document.createElement('div');
  cell.className = 'cell';
  const W = AXIS_L + PANEL_W + PAD_R, H = PAD_T + PLOT_H + AXIS_B;
  cell.style.left = (left - AXIS_L) + 'px'; cell.style.top = (plotTop - PAD_T) + 'px';
  cell.style.width = W + 'px'; cell.style.height = H + 'px';
  const canvas = document.createElement('canvas');
  canvas.width = W; canvas.height = H;
  canvas.style.width = W + 'px'; canvas.style.height = H + 'px';
  cell.appendChild(canvas);
  document.body.appendChild(cell);

  const xs = [], ys = [0];
  const datasets = series.map(([colour, xv, yv, se], i) => {
    const pts = yv.map((v, k) => ({ x: xv[k], y: v, se: se[k] }));
    pts.forEach(p => { xs.push(p.x); ys.push(p.y - p.se, p.y + p.se); });
    return {
      data: pts,
      order: series.length - i,
      barColor: `rgba(${RGB[colour]},${BAR_ALPHA})`,
      backgroundColor: `rgba(${RGB[colour]},${POINT_ALPHA})`,
      borderColor: `rgba(${RGB[colour]},${POINT_ALPHA})`,
      borderWidth: 1.4,
      pointRadius: 5.2,
      pointHoverRadius: 5.2,
      showLine: false
    };
  });
  const [xMin, xMax] = expanded(xs);
  const [yMin, yMax] = expanded(ys);

  const xAxis = axisStyle(3);
  const yAxis = axisStyle(3);
  new Chart(canvas, {
    type: 'scatter',
    data: { datasets },
    options: {
      responsive: false, animation: false, devicePixelRatio: 1, events: [],
      layout: { padding: { left: 0, top: PAD_T, right: PAD_R, bottom: 0 } },
      plugins: { legend: { display: false }, tooltip: { enabled: false } },
      scales: {
        x: Object.assign({ type: 'linear', position: 'bottom', min: xMin, max: xMax,
          afterBuildTicks: s => { s.ticks = xTicks.map(v => ({ value: v })); },
          afterFit: s => { s.height = AXIS_B; } }, xAxis),
        y: Object.assign({ type: 'linear', position: 'left', min: yMin, max: yMax,
          afterBuildTicks: s => { s.ticks = yTicks.map(v => ({ value: v })); },
          afterFit: s => { s.width = AXIS_L; } }, yAxis)
      }
    },
    plugins: [errorBars, zeroLine]
  });
});
</script>
</body>
</html>
